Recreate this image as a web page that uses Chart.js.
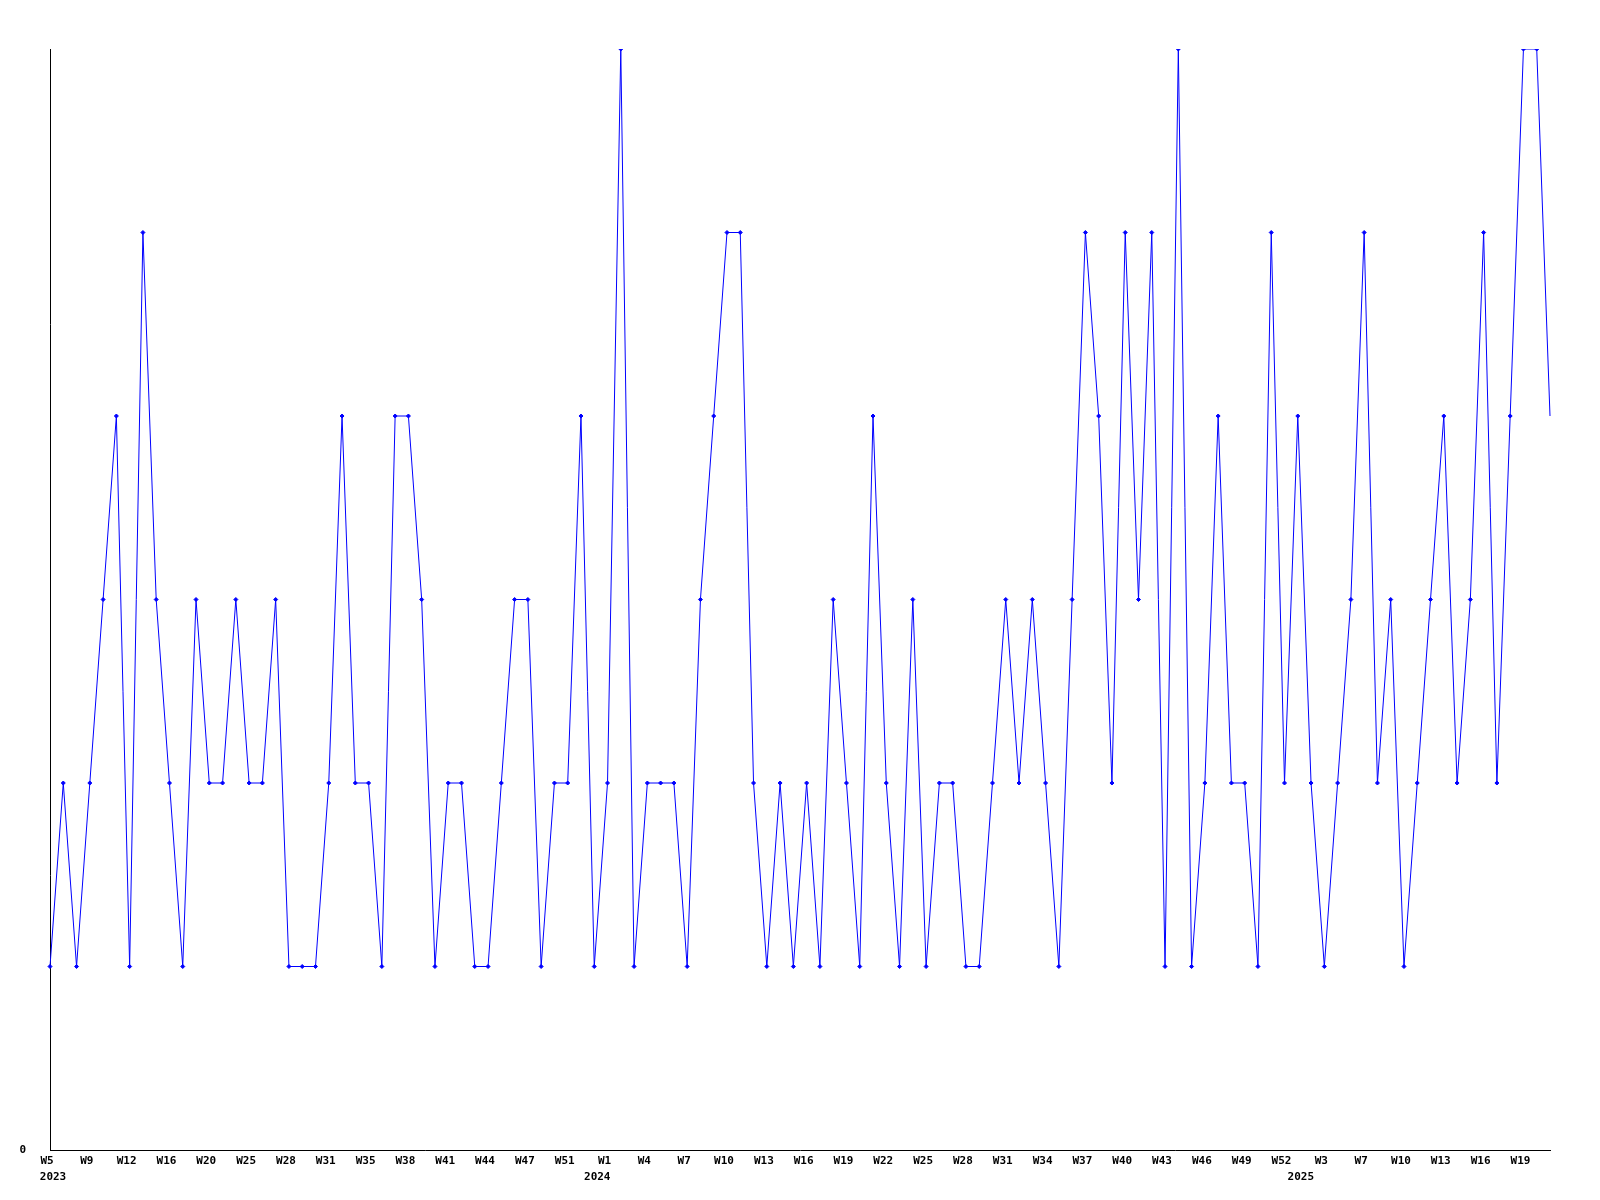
<!DOCTYPE html>
<html>
<head>
<meta charset="utf-8">
<title>Weekly chart</title>
<script src="https://cdn.jsdelivr.net/npm/chart.js@4/dist/chart.umd.min.js"></script>
<style>
  html, body { margin: 0; padding: 0; background: #fff; }
  canvas { display: block; }
</style>
</head>
<body>
<canvas id="chart" width="1600" height="1200"></canvas>
<script>
// one value per point
const values = [
  1, 2, 1, 2, 3, 4, 1, 5, 3, 2,
  1, 3, 2, 2, 3, 2, 2, 3, 1, 1,
  1, 2, 4, 2, 2, 1, 4, 4, 3, 1,
  2, 2, 1, 1, 2, 3, 3, 1, 2, 2,
  4, 1, 2, 6, 1, 2, 2, 2, 1, 3,
  4, 5, 5, 2, 1, 2, 1, 2, 1, 3,
  2, 1, 4, 2, 1, 3, 1, 2, 2, 1,
  1, 2, 3, 2, 3, 2, 1, 3, 5, 4,
  2, 5, 3, 5, 1, 6, 1, 2, 4, 2,
  2, 1, 5, 2, 4, 2, 1, 2, 3, 5,
  2, 3, 1, 2, 3, 4, 2, 3, 5, 2,
  4, 6, 6, 4
];

// week labels, shown on every third point
const weekTicks = [
  "W5", "W9", "W12", "W16", "W20", "W25", "W28", "W31", "W35", "W38",
  "W41", "W44", "W47", "W51", "W1", "W4", "W7", "W10", "W13", "W16",
  "W19", "W22", "W25", "W28", "W31", "W34", "W37", "W40", "W43", "W46",
  "W49", "W52", "W3", "W7", "W10", "W13", "W16", "W19"
];
const tickEvery = 3;

// year labels and the point index they sit under
const years = ["2023", "2024", "2025"];
const yearIndex = [0, 41, 94];

const weekLabels = values.map((_, i) => (i % tickEvery === 0 ? weekTicks[i / tickEvery] || "" : ""));
const yearLabels = values.map((_, i) => {
  const k = yearIndex.indexOf(i);
  return k >= 0 ? years[k] : "";
});

const axisFont = { family: "'DejaVu Sans Mono', monospace", size: 11, weight: "bold" };
const lastIndex = values.length - 1;

new Chart(document.getElementById("chart").getContext("2d"), {
  type: "line",
  data: {
    labels: weekLabels,
    datasets: [{
      data: values,
      borderColor: "#0000ff",
      backgroundColor: "#0000ff",
      borderWidth: 1,
      tension: 0,
      fill: false,
      pointStyle: "rectRot",
      pointRadius: ctx => (ctx.dataIndex === lastIndex ? 0 : 2),
      pointBorderWidth: 1,
      xAxisID: "x",
      yAxisID: "y"
    }]
  },
  options: {
    responsive: false,
    animation: false,
    layout: { padding: { top: 49, right: 50, left: 0, bottom: 0 } },
    plugins: {
      legend: { display: false },
      tooltip: { enabled: false }
    },
    scales: {
      x: {
        type: "category",
        position: "bottom",
        weight: 0,
        offset: false,
        grid: { display: false, drawTicks: false },
        border: { display: true, color: "#000", width: 1 },
        ticks: {
          autoSkip: false,
          maxRotation: 0,
          minRotation: 0,
          padding: 5,
          labelOffset: -3,
          color: "#000",
          font: axisFont
        },
        afterFit: scale => { scale.height = 20; }
      },
      x2: {
        type: "category",
        position: "bottom",
        weight: 1,
        labels: yearLabels,
        offset: false,
        grid: { display: false, drawTicks: false },
        border: { display: false },
        ticks: {
          autoSkip: false,
          maxRotation: 0,
          minRotation: 0,
          padding: 1,
          labelOffset: 3,
          color: "#000",
          font: axisFont
        },
        afterFit: scale => { scale.height = 30; }
      },
      y: {
        min: 0,
        max: 6,
        grid: { display: false, drawTicks: false },
        border: { display: true, color: "#000", width: 1 },
        ticks: {
          stepSize: 1,
          padding: 24,
          color: "#000",
          font: axisFont,
          callback: value => (value === 0 ? "0" : "")
        },
        afterFit: scale => { scale.width = 50; }
      }
    }
  }
});
</script>
</body>
</html>
